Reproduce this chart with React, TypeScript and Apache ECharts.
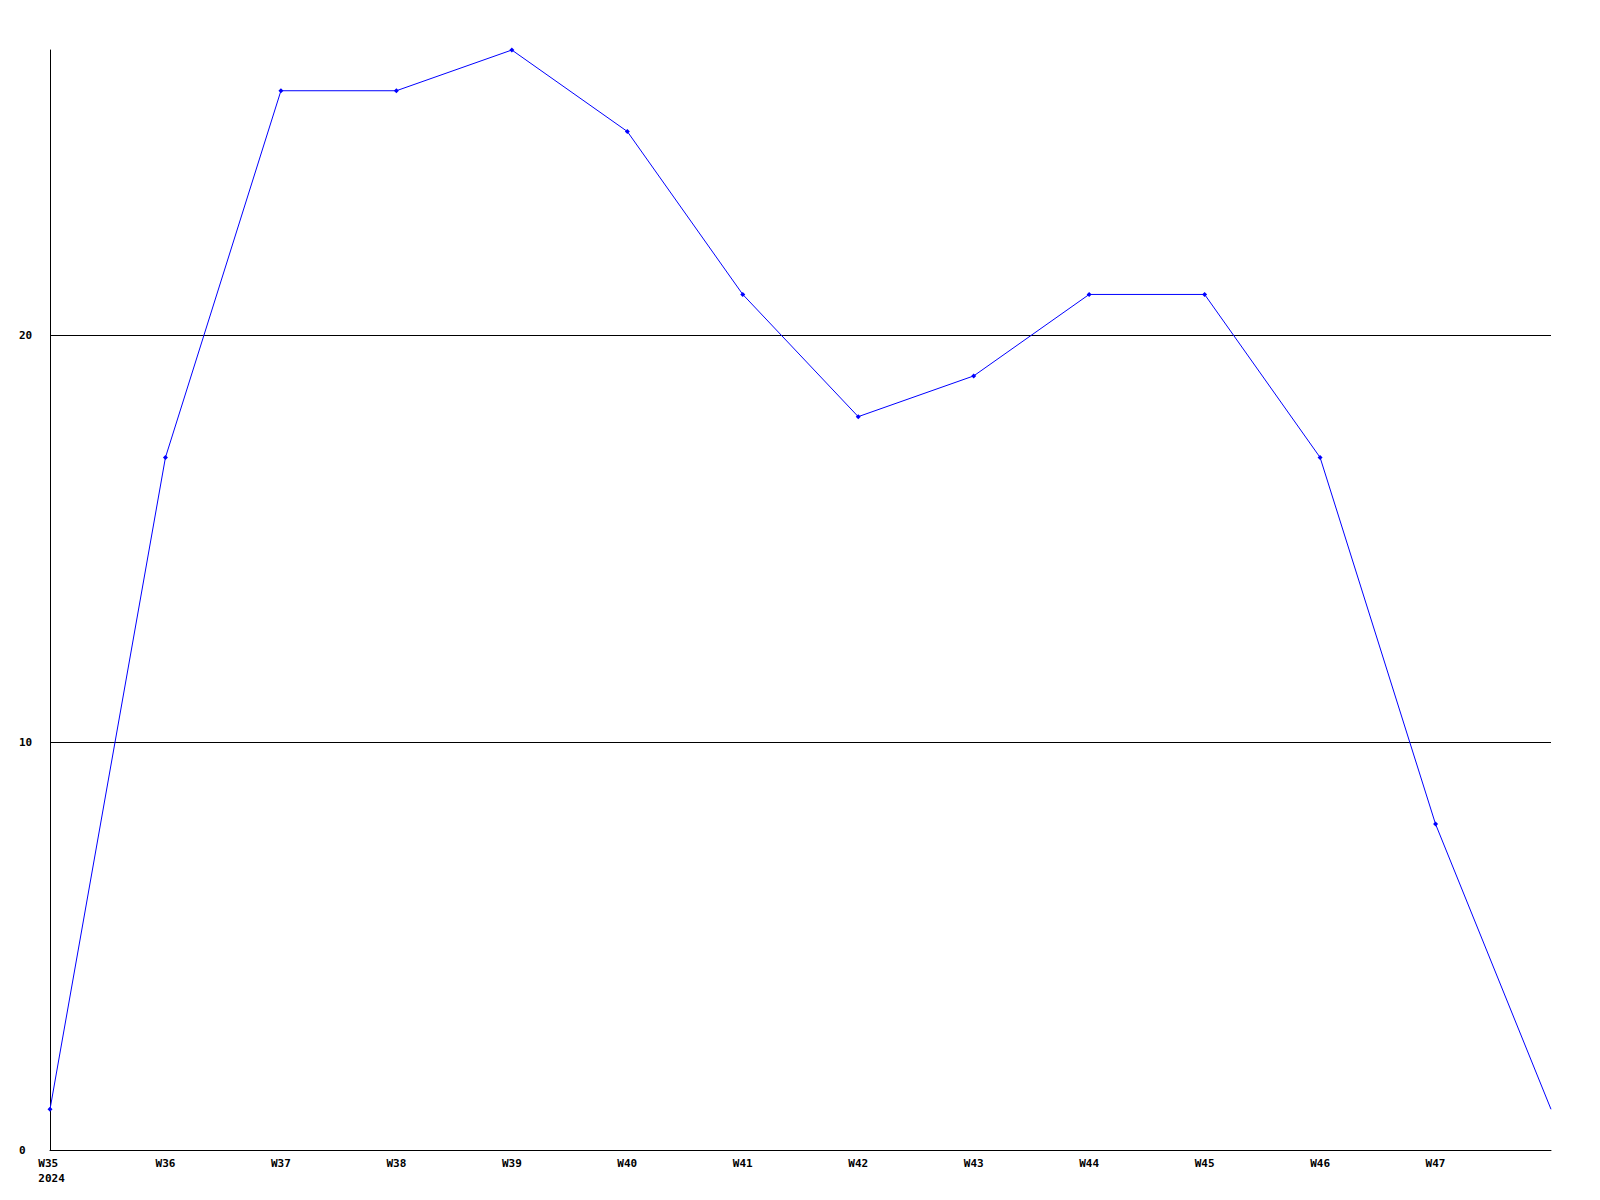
import React, { useEffect, useRef } from "react";
import * as echarts from "echarts";

const weeks = ["W35", "W36", "W37", "W38", "W39", "W40", "W41", "W42", "W43", "W44", "W45", "W46", "W47", ""];
const yearLabel = "2024";
const values = [1, 17, 26, 26, 27, 25, 21, 18, 19, 21, 21, 17, 8, 1];
const yMax = 27;

export default function App() {
  const ref = useRef<HTMLDivElement>(null);
  useEffect(() => {
    document.body.style.margin = "0";
    const chart = echarts.init(ref.current!, null, { renderer: "svg" });
    const font = { fontFamily: "DejaVu Sans Mono", fontWeight: "bold" as const, fontSize: 11, color: "#000" };
    chart.setOption({
      animation: false,
      backgroundColor: "#fff",
      grid: { left: 50, right: 49, top: 50, bottom: 50, containLabel: false },
      xAxis: {
        type: "category",
        data: weeks,
        boundaryGap: false,
        axisLine: { show: true, lineStyle: { color: "#000", width: 1 } },
        axisTick: { show: false },
        splitLine: { show: false },
        axisLabel: {
          ...font,
          margin: 6,
          lineHeight: 15,
          interval: 0,
          formatter: (v: string, i: number) => (i === 0 ? `{a|${v} }\n{a|${yearLabel}}` : v),
          rich: { a: { ...font, lineHeight: 15, align: "left", padding: [0, 0, 0, 3] } },
        },
      },
      yAxis: {
        type: "value",
        min: 0,
        max: yMax,
        interval: 10,
        axisLine: { show: true, lineStyle: { color: "#000", width: 1 } },
        axisTick: { show: false },
        splitLine: { show: true, showMinLine: false, showMaxLine: false, lineStyle: { color: "#000", width: 1 } },
        axisLabel: { ...font, align: "left", margin: 31, showMaxLabel: false },
      },
      series: [
        {
          type: "line",
          data: values.map((v, i) => (i === values.length - 1 ? { value: v, symbolSize: 0 } : v)),
          symbol: "diamond",
          symbolSize: 5,
          showAllSymbol: true,
          lineStyle: { color: "#0000ff", width: 1 },
          itemStyle: { color: "#0000ff" },
          clip: false,
        },
      ],
    });
    return () => chart.dispose();
  }, []);
  return <div ref={ref} style={{ width: 1600, height: 1200, position: "absolute", left: 0, top: 0 }} />;
}
